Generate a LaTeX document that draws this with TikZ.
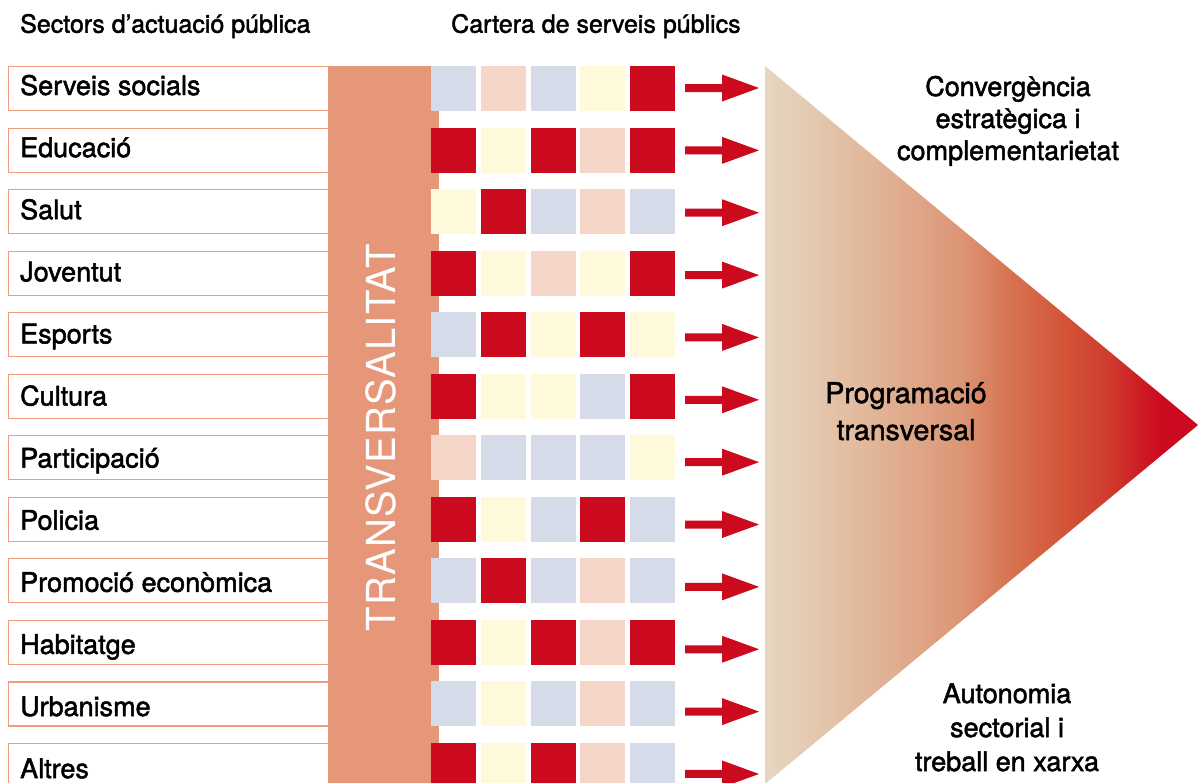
\documentclass[tikz,border=0pt]{standalone}
\usepackage{fontspec}
\setmainfont{TeX Gyre Heros}
\newfontfamily\medfont{TeX Gyre Heros}[FakeBold=1.8]
\newfontfamily\spacedfont{TeX Gyre Heros}[LetterSpace=3]
\definecolor{sqB}{HTML}{D5DBE9}
\definecolor{sqP}{HTML}{F6D6C8}
\definecolor{sqY}{HTML}{FFF9DB}
\definecolor{sqR}{HTML}{CB0A1E}
\definecolor{band}{HTML}{E6977A}
\definecolor{boxline}{HTML}{EE9C7D}
\definecolor{triA}{HTML}{E6D6C1}
\definecolor{triB}{HTML}{E2BA9D}
\definecolor{triC}{HTML}{DC9676}
\definecolor{triD}{HTML}{D6704E}
\definecolor{triE}{HTML}{D3573A}
\definecolor{triF}{HTML}{CF3A2D}
\definecolor{triG}{HTML}{CC0A1F}
\pgfdeclarehorizontalshading{trishade}{100bp}{color(0bp)=(triA); color(25bp)=(triA); color(35.97bp)=(triB); color(47.5bp)=(triC); color(53.9bp)=(triD); color(59bp)=(triE); color(64.8bp)=(triF); color(70.6bp)=(triG); color(100bp)=(triG)}
\tikzset{
  secbox/.style={draw=boxline, line width=1.3pt, fill=white, minimum width=346pt, minimum height=44pt, inner sep=0pt, anchor=north west},
  lbl/.style={font=\medfont\fontsize{27}{32}\selectfont, inner sep=0pt, anchor=base west},
  hdr/.style={font=\medfont\fontsize{25}{30}\selectfont, inner sep=0pt, anchor=base west},
  sq/.style={minimum size=45pt, inner sep=0pt, outer sep=0pt, anchor=north west},
  side/.style={font=\medfont\fontsize{27}{32}\selectfont, align=center, inner sep=0pt, anchor=base},
  mid/.style={font=\medfont\fontsize{28.5}{37}\selectfont, align=center, inner sep=0pt, anchor=base},
  arr/.style={fill=sqR},
}
\begin{document}
\begin{tikzpicture}[x=1pt, y=-1pt]
\clip (0,0) rectangle (1198,782);
\fill[white] (0,0) rectangle (1198,782);
% headers
\node[hdr] (h1) at (20,32.7) {Sectors d’actuació pública};
\node[hdr] (h2) at (451,32.7) {Cartera de serveis públics};
% sector boxes
\foreach \lab [count=\i] in {Serveis socials, Educació, Salut, Joventut, Esports, Cultura, Participació, Policia, Promoció econòmica, Habitatge, Urbanisme, Altres}{
  \pgfmathsetmacro\tp{66+61.52*(\i-1)}
  \pgfmathsetmacro\bl{95+62.1*(\i-1)}
  \node[secbox] (s\i) at (8,\tp) {};
  \node[lbl] (l\i) at (20,\bl) {\lab};
}
% transversal band
\fill[band] (328,66) rectangle (439,790);
\node[rotate=90, text=white, font=\spacedfont\fontsize{40}{40}\selectfont, inner sep=0pt] (tv) at (381,438) {TRANSVERSALITAT};
% squares
\foreach \pat [count=\i] in {{B,P,B,Y,R},{R,Y,R,P,R},{Y,R,B,P,B},{R,Y,P,Y,R},{B,R,Y,R,Y},{R,Y,Y,B,R},{P,B,B,B,Y},{R,Y,B,R,B},{B,R,B,P,B},{R,Y,R,P,R},{B,Y,B,P,B},{R,Y,R,P,B}}{
  \pgfmathsetmacro\tp{66+61.52*(\i-1)}
  \foreach \c [count=\j] in \pat {
    \node[sq, fill=sq\c] (q\i-\j) at ({431+49.75*(\j-1)},\tp) {};
  }
  \pgfmathsetmacro\ay{88+62.36*(\i-1)}
  \coordinate (a\i) at (685,\ay);
  \fill[arr] (a\i) ++(0,-4) -- ++(37,0) -- ++(0,-9.5) -- ++(37,13.5) -- ++(-37,13.5) -- ++(0,-9.5) -- ++(-37,0) -- cycle;
}
% triangle
\coordinate (t1) at (765,66);
\coordinate (t2) at (1198,425);
\coordinate (t3) at (765,784);
\shade[shading=trishade] (t1) -- (t2) -- (t3) -- cycle;
% texts
\node[side] (conv) at (1008,160) {Convergència\\estratègica i\\complementarietat};
\node[mid] (prog) at (906,440) {Programació\\transversal};
\node[side, font=\medfont\fontsize{27}{34}\selectfont] (auto) at (1007,771) {Autonomia\\sectorial i\\treball en xarxa};
\end{tikzpicture}
\end{document}
